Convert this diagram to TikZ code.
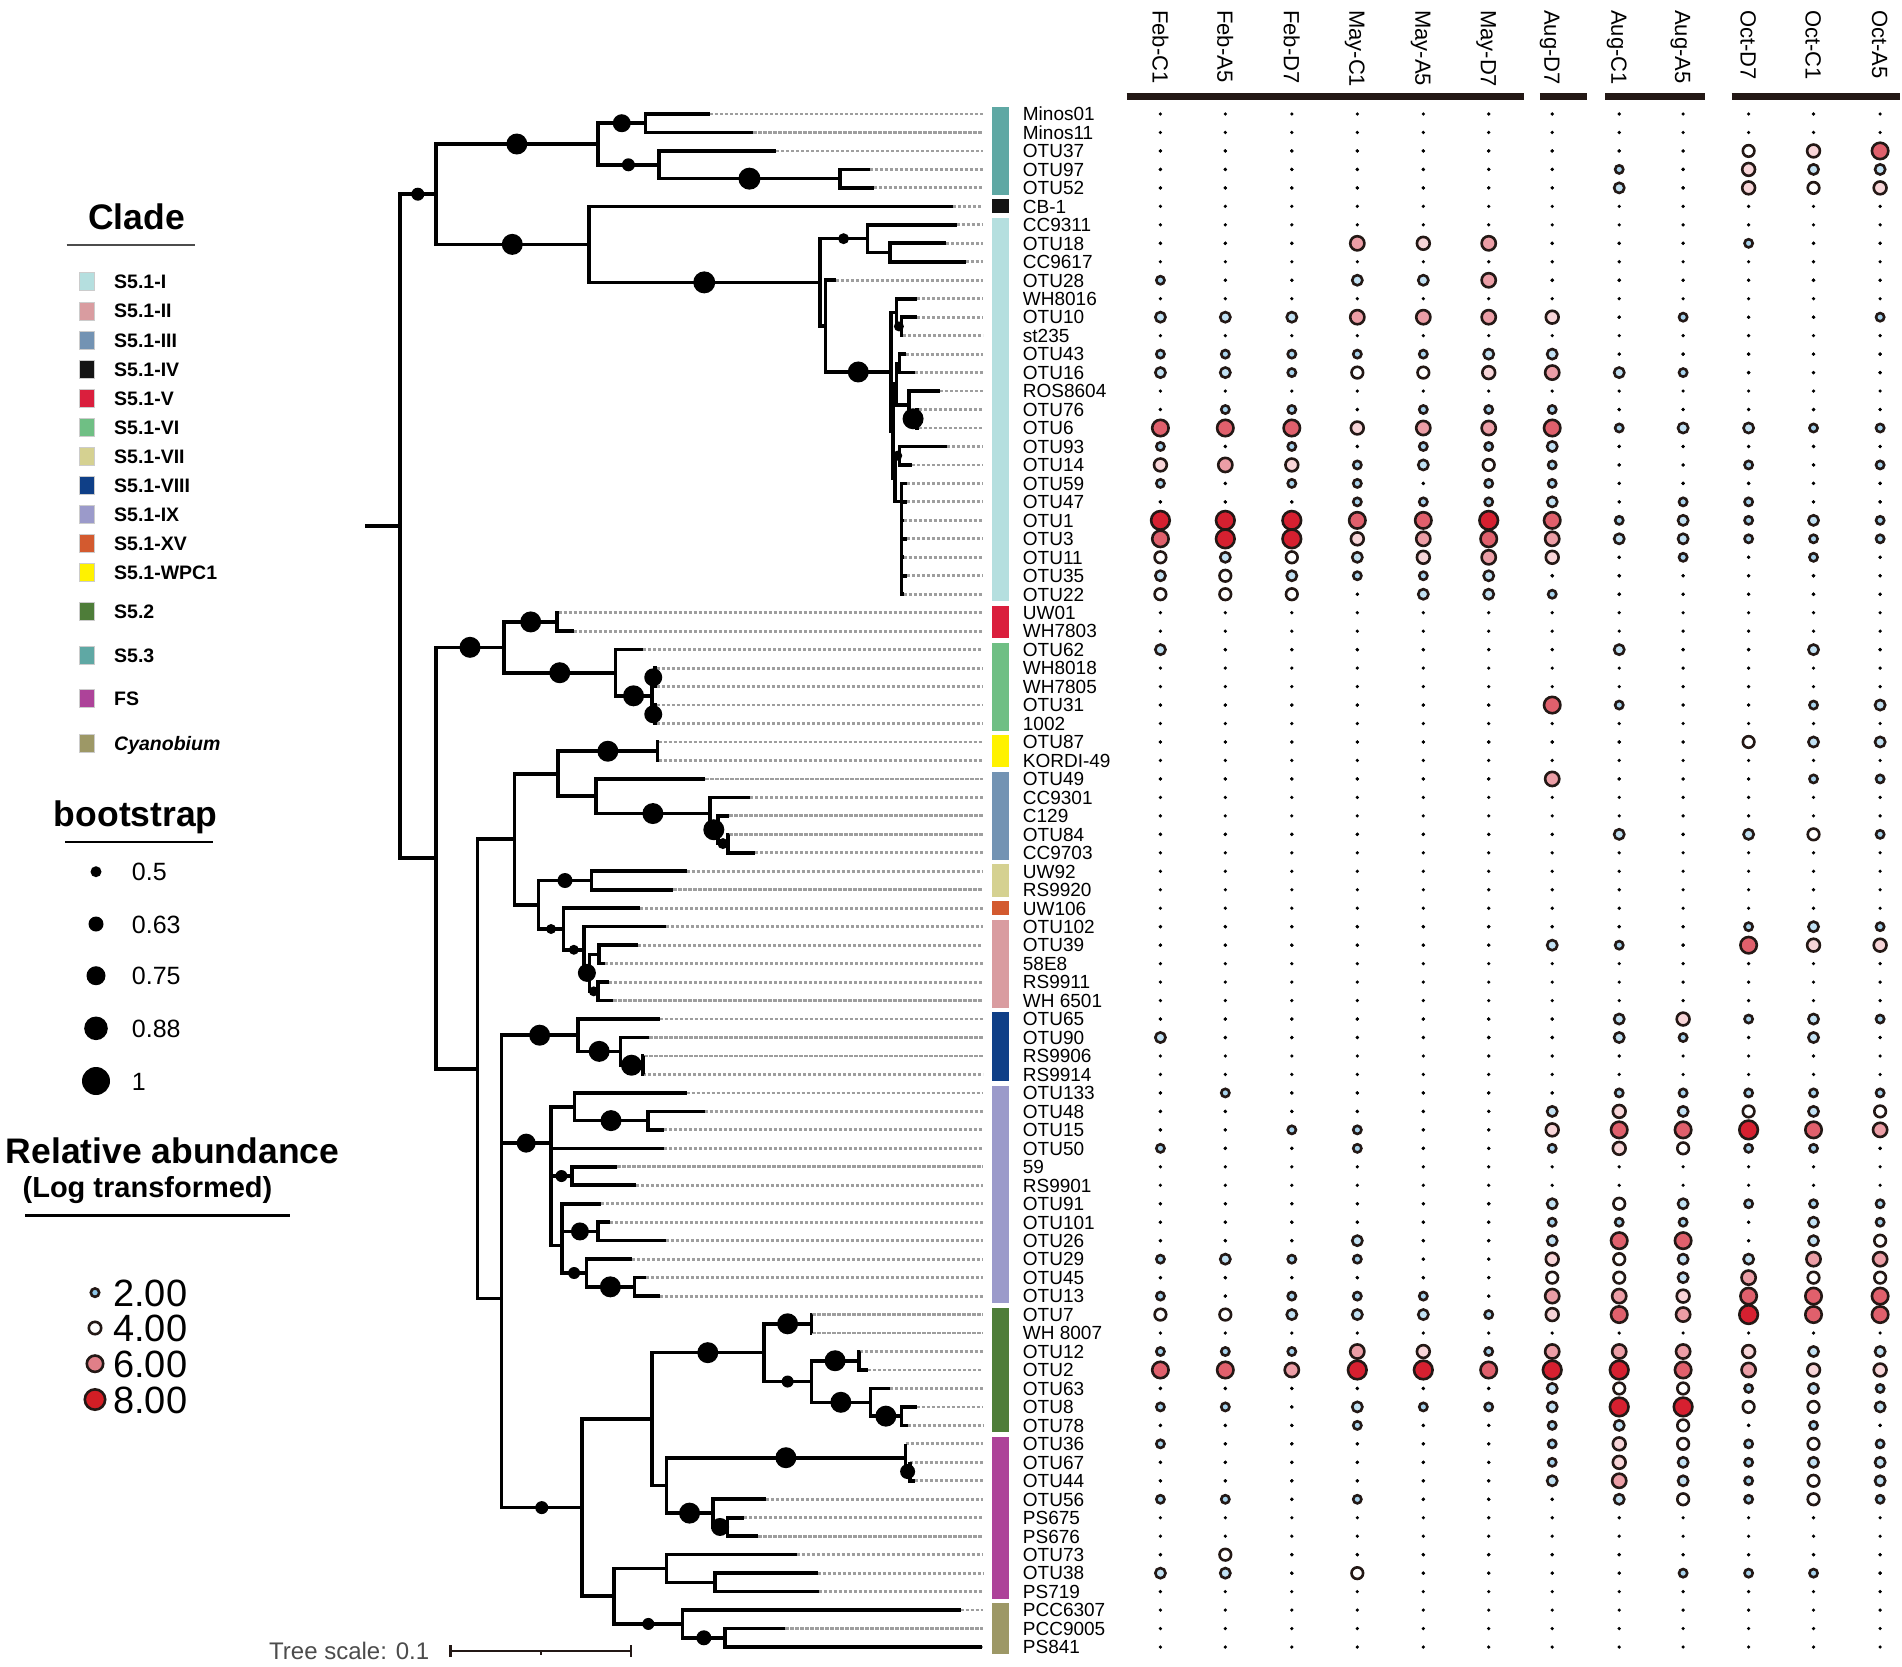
\documentclass[tikz,border=0pt]{standalone}
\usepackage{fontspec}
\setmainfont{Liberation Sans}
\usetikzlibrary{calc}
\definecolor{ink}{HTML}{231815}
\definecolor{dotgrey}{HTML}{9E9E9E}
\definecolor{cS53}{HTML}{5FA8A4}
\definecolor{cI}{HTML}{B5DFDF}
\definecolor{cIV}{HTML}{141414}
\definecolor{cV}{HTML}{DA1F3D}
\definecolor{cVI}{HTML}{6FBF84}
\definecolor{cWPC}{HTML}{FFF200}
\definecolor{cIII}{HTML}{7393B3}
\definecolor{cVII}{HTML}{D5D191}
\definecolor{cXV}{HTML}{D35A2F}
\definecolor{cII}{HTML}{D99CA0}
\definecolor{cVIII}{HTML}{0F3F87}
\definecolor{cIX}{HTML}{9B9ACA}
\definecolor{cS52}{HTML}{4E7D39}
\definecolor{cFS}{HTML}{AD4399}
\definecolor{cCy}{HTML}{9D9866}
\definecolor{cb1}{HTML}{A9D5EF}
\definecolor{cb2}{HTML}{C2E2F4}
\definecolor{cb3}{HTML}{FFFFFF}
\definecolor{cb4}{HTML}{F8D5D8}
\definecolor{cb5}{HTML}{EC9EA6}
\definecolor{cb6}{HTML}{E0606C}
\definecolor{cb7}{HTML}{D62030}
\newcommand\inode[4]{%
  \path let \p1=($(#3)!0.5!(#4)$) in coordinate (#1) at (#2pt,\y1);%
  \draw[br] (#3) -- (#1 |- #3) -- (#1 |- #4) -- (#4);%
}
\newcommand\boot[3]{\fill[black] ($(#2 |- #3)!0.5!(#3)$) circle[radius=#1pt];}
\newcommand\bubble[3]{%
  \ifcase#1\relax
    \fill[black] (#2,#3) circle[radius=1.8pt];
  \or \filldraw[ring,fill=cb1] (#2,#3) circle[radius=4.1pt];
  \or \filldraw[ring,fill=cb2] (#2,#3) circle[radius=5.1pt];
  \or \filldraw[ring,fill=cb3] (#2,#3) circle[radius=5.8pt];
  \or \filldraw[ring,fill=cb4] (#2,#3) circle[radius=6.4pt];
  \or \filldraw[ring,fill=cb5] (#2,#3) circle[radius=7.1pt];
  \or \filldraw[ring,fill=cb6] (#2,#3) circle[radius=8.2pt];
  \or \filldraw[ring,fill=cb7] (#2,#3) circle[radius=9.3pt];
  \fi}
\begin{document}
\begin{tikzpicture}[x=1pt,y=-1pt,
  declare function={ry(\q)=114+(\q-1)*18.47;},
  br/.style={draw=black,line width=3.6pt},
  dotl/.style={draw=dotgrey,line width=2.8pt,dash pattern=on 3.2pt off 1.8pt},
  ring/.style={draw=ink,line width=2.6pt},
  lab/.style={anchor=west,inner sep=0pt,text height=13.6pt,text depth=0pt,font=\fontsize{19}{19}\selectfont},
  hdr/.style={rotate=-90,anchor=base west,inner sep=0pt,font=\fontsize{22}{22}\selectfont},
  legtxt/.style={anchor=west,inner sep=0pt,text height=14pt,text depth=0pt,font=\fontsize{19.5}{20}\selectfont\bfseries},
  bslab/.style={anchor=west,inner sep=0pt,text height=18pt,text depth=0pt,font=\fontsize{25}{25}\selectfont},
  ablab/.style={anchor=west,inner sep=0pt,text height=27.2pt,text depth=0pt,font=\fontsize{38}{38}\selectfont},
  title/.style={anchor=base,inner sep=0pt,font=\fontsize{35.5}{35.5}\selectfont\bfseries}]
\useasboundingbox (0,0) rectangle (1902,1666);
\fill[white] (0,0) rectangle (1902,1666);

% ---------------- leaves ----------------
\foreach \i/\x/\nm in {1/709.9/Minos01,2/753.4/Minos11,3/776.2/OTU37,4/869.5/OTU97,5/873.6/OTU52,
 6/953.2/CB-1,7/956.6/CC9311,8/946.2/OTU18,9/965.7/CC9617,10/835.9/OTU28,11/917.2/WH8016,
 12/917.2/OTU10,13/903/st235,14/905.5/OTU43,15/914.7/OTU16,16/940/ROS8604,17/919/OTU76,
 18/919/OTU6,19/947/OTU93,20/911.8/OTU14,21/906.8/OTU59,22/906.8/OTU47,23/903.5/OTU1,
 24/906.8/OTU3,25/903.5/OTU11,26/906.8/OTU35,27/903.5/OTU22,28/558.5/UW01,29/573.9/WH7803,
 30/643.1/OTU62,31/656.8/WH8018,32/656.8/WH7805,33/656.8/OTU31,34/656.8/1002,35/658.5/OTU87,
 36/658.5/KORDI-49,37/705.3/OTU49,38/750.1/CC9301,39/729.3/C129,40/729.3/OTU84,41/755/CC9703,
 42/686.6/UW92,43/673.4/RS9920,44/640.2/UW106,45/665.9/OTU102,46/638.1/OTU39,47/605/58E8,
 48/609.1/RS9911,49/613.3/WH 6501,50/659.7/OTU65,51/649.3/OTU90,52/644.4/RS9906,53/643/RS9914,
 54/686.6/OTU133,55/704.5/OTU48,56/663.8/OTU15,57/663.8/OTU50,58/617.4/59,59/636.1/RS9901,
 60/600.8/OTU91,61/609.9/OTU101,62/665.9/OTU26,63/631.9/OTU29,64/645.6/OTU45,65/659.7/OTU13,
 66/812.3/OTU7,67/812.3/WH 8007,68/859.5/OTU12,69/868.2/OTU2,70/890.2/OTU63,71/916.8/OTU8,
 72/907.6/OTU78,73/905.5/OTU36,74/909.7/OTU67,75/914.7/OTU44,76/765.8/OTU56,77/743.9/PS675,
 78/758.4/PS676,79/796.5/OTU73,80/817.7/OTU38,81/818.5/PS719,82/960.7/PCC6307,83/785.3/PCC9005,
 84/982.3/PS841}{
  \coordinate (n\i) at (\x,{ry(\i)});
  \coordinate (d\i) at (983,{ry(\i)});
  \draw[dotl] (n\i) -- (d\i);
  \node[lab] (lab\i) at (1022.7,{ry(\i)}) {\nm};
}

% ---------------- clade colour bar ----------------
\foreach \a/\b/\col in {1/5/cS53,6/6/cIV,7/27/cI,28/29/cV,30/34/cVI,35/36/cWPC,37/41/cIII,
 42/43/cVII,44/44/cXV,45/49/cII,50/53/cVIII,54/65/cIX,66/72/cS52,73/81/cFS,82/84/cCy}{
  \fill[\col] (992,{ry(\a)-7}) rectangle (1008.5,{ry(\b)+7});
}

% ---------------- tree: upper group ----------------
\inode{M1}{645.6}{n1}{n2}
\inode{M3}{840}{n4}{n5}
\inode{M2}{658.9}{n3}{M3}
\inode{T}{597.9}{M1}{M2}
\inode{C2}{890.2}{n8}{n9}
\inode{C1}{867.4}{n7}{C2}
\inode{G1b}{901.4}{n12}{n13}
\inode{G1}{896.4}{n11}{G1b}
\inode{H1}{899.3}{n14}{n15}
\inode{H2}{917.2}{n17}{n18}
\inode{G3b}{908.9}{n16}{H2}
\inode{G3}{896.4}{H1}{G3b}
\inode{J1}{899.3}{n19}{n20}
\inode{K6}{901.4}{n26}{n27}
\inode{K5}{901.4}{n25}{K6}
\inode{K4}{901.4}{n24}{K5}
\inode{K3}{901.4}{n23}{K4}
\inode{K2}{901.4}{n22}{K3}
\inode{K1}{901.4}{n21}{K2}
\inode{G4}{895.2}{J1}{K1}
\inode{G2}{893.1}{G3}{G4}
\inode{C4}{891}{G1}{G2}
\inode{C3}{825.5}{n10}{C4}
\inode{C}{819.7}{C1}{C3}
\inode{B}{588.8}{n6}{C}
\inode{U}{435.8}{T}{B}

% ---------------- tree: lower group ----------------
\inode{V}{557.2}{n28}{n29}
\inode{VI3}{654.7}{n31}{n32}
\inode{VI4}{654.7}{n33}{n34}
\inode{VI2}{651.8}{VI3}{VI4}
\inode{VI}{615.3}{n30}{VI2}
\inode{V56}{504.2}{V}{VI}
\inode{WPC}{657.6}{n35}{n36}
\inode{III4}{728.1}{n40}{n41}
\inode{III3}{717.7}{n39}{III4}
\inode{III2}{709.9}{n38}{III3}
\inode{III}{595.9}{n37}{III2}
\inode{Q1}{558.1}{WPC}{III}
\inode{VII}{591.3}{n42}{n43}
\inode{II3}{598.8}{n46}{n47}
\inode{II4}{597.9}{n48}{n49}
\inode{II2}{589.6}{II3}{II4}
\inode{II}{584.2}{n45}{II2}
\inode{Q3}{563.5}{n44}{II}
\inode{Q2}{538.6}{VII}{Q3}
\inode{Q}{514.6}{Q1}{Q2}
\inode{VIII3}{642.7}{n52}{n53}
\inode{VIII2}{620.3}{n51}{VIII3}
\inode{VIII}{578}{n50}{VIII2}
\inode{IXa2}{647.7}{n55}{n56}
\inode{IXa}{574.3}{n54}{IXa2}
\inode{IXc}{571.8}{n58}{n59}
\inode{IXe}{597.9}{n61}{n62}
\inode{IXdd}{561.9}{n60}{IXe}
\inode{IXg}{634.4}{n64}{n65}
\inode{IXf}{586.3}{n63}{IXg}
\inode{IXd}{561.9}{IXdd}{IXf}
\inode{IXthree}{551.1}{IXc}{IXd}
\inode{IXtwo}{551.1}{n57}{IXthree}
\inode{IXone}{551.1}{IXa}{IXtwo}
\inode{Rtwo}{501.3}{VIII}{IXone}
\inode{SIIa}{811.4}{n66}{n67}
\inode{SIIc}{858.7}{n68}{n69}
\inode{SIIe}{901.4}{n71}{n72}
\inode{SIId}{870.3}{n70}{SIIe}
\inode{SIIb}{811.4}{SIIc}{SIId}
\inode{SII}{763.8}{SIIa}{SIIb}
\inode{FStwo}{909.7}{n74}{n75}
\inode{FSone}{905.5}{n73}{FStwo}
\inode{FSfour}{727.3}{n77}{n78}
\inode{FSthree}{712.8}{n76}{FSfour}
\inode{FSall}{666.3}{FSone}{FSthree}
\inode{Sone}{651.8}{SII}{FSall}
\inode{Stwob}{714.8}{n80}{n81}
\inode{Stwoa}{666.3}{n79}{Stwob}
\inode{Cytwo}{725.2}{n83}{n84}
\inode{Cy}{682.5}{n82}{Cytwo}
\inode{Stwo}{614.1}{Stwoa}{Cy}
\inode{S}{582.2}{Sone}{Stwo}
\inode{Rone}{501.3}{Rtwo}{S}
\inode{Lb}{477.3}{Q}{Rone}
\inode{L}{435.8}{V56}{Lb}
\inode{root}{399.8}{U}{L}
\coordinate (rootstub) at ($(root)+(-35.3,0)$);
\draw[br] (root) -- (rootstub);

% ---------------- bootstrap dots ----------------
\boot{6.5}{root}{U}
\boot{10.5}{U}{T}
\boot{9}{T}{M1}
\boot{6.5}{T}{M2}
\boot{11}{M2}{M3}
\boot{10.5}{U}{B}
\boot{11}{B}{C}
\boot{5.5}{C}{C1}
\boot{10.5}{C3}{C4}
\boot{5}{G1}{G1b}
\boot{10.5}{G3b}{H2}
\boot{5}{G4}{J1}
\boot{10.5}{L}{V56}
\boot{10.5}{V56}{V}
\boot{10.5}{V56}{VI}
\boot{10.5}{VI}{VI2}
\boot{9}{VI2}{VI3}
\boot{9}{VI2}{VI4}
\boot{10.5}{Q1}{WPC}
\boot{10.5}{III}{III2}
\boot{10.5}{III2}{III3}
\boot{5.5}{III3}{III4}
\boot{7.5}{Q2}{VII}
\boot{5}{Q2}{Q3}
\boot{5}{Q3}{II}
\boot{9}{II}{II2}
\boot{5}{II2}{II4}
\boot{10.5}{Rtwo}{VIII}
\boot{10.5}{VIII}{VIII2}
\boot{10.5}{VIII2}{VIII3}
\boot{9.5}{Rtwo}{IXone}
\boot{10.5}{IXa}{IXa2}
\boot{6}{IXthree}{IXc}
\boot{9}{IXdd}{IXe}
\boot{6}{IXd}{IXf}
\boot{10.5}{IXf}{IXg}
\boot{6.5}{Rone}{S}
\boot{10.5}{Sone}{SII}
\boot{10.5}{SII}{SIIa}
\boot{6}{SII}{SIIb}
\boot{10.5}{SIIb}{SIIc}
\boot{10.5}{SIIb}{SIId}
\boot{10.5}{SIId}{SIIe}
\boot{10.5}{FSall}{FSone}
\boot{7.5}{FSone}{FStwo}
\boot{10.5}{FSall}{FSthree}
\boot{9}{FSthree}{FSfour}
\boot{6}{Stwo}{Cy}
\boot{7.5}{Cy}{Cytwo}

% ---------------- tree scale ----------------
\node[anchor=base west,inner sep=0pt,font=\fontsize{24}{24}\selectfont,text=black!70] (tscale) at (269,1659.5) {Tree scale: 0.1};
\coordinate (sbA) at (450.7,1651);
\coordinate (sbB) at (631.1,1651);
\draw[ink,line width=2.5pt] (sbA) -- (sbB);
\draw[ink,line width=2.5pt] ($(sbA)+(0,-6)$) -- ($(sbA)+(0,6)$);
\draw[ink,line width=2.5pt] ($(sbB)+(0,-6)$) -- ($(sbB)+(0,6)$);
\draw[ink,line width=1.8pt] ($(sbA)!0.5!(sbB)$) -- ++(0,3.5);

% ---------------- column headers ----------------
\foreach \x/\t [count=\i] in {1160.4/Feb-C1,1225.3/Feb-A5,1291.8/Feb-D7,1357.3/May-C1,
 1423.3/May-A5,1488.7/May-D7,1552.2/Aug-D7,1619.2/Aug-C1,1683.1/Aug-A5,1748.6/Oct-D7,
 1813.5/Oct-C1,1880.1/Oct-A5}{
  \node[hdr] (h\i) at ({\x-7.9},10) {\t};
}
\foreach \a/\b in {1126.6/1523.5,1539.9/1587,1605.4/1705.1,1731.7/1900}{
  \draw[ink,line width=7pt] (\a,96.5) -- (\b,96.5);
}

% ---------------- bubbles ----------------
\foreach \r in {1,...,84}{
  \foreach \cx in {1160.4,1225.3,1291.8,1357.3,1423.3,1488.7,1552.2,1619.2,1683.1,1748.6,1813.5,1880.1}{
    \fill[black] (\cx,{ry(\r)}) circle[radius=1.8pt];
  }
}
\foreach \r/\vals in {
 3/{0,0,0,0,0,0,0,0,0,3,4,6},
 4/{0,0,0,0,0,0,0,1,0,4,2,2},
 5/{0,0,0,0,0,0,0,2,0,4,3,4},
 8/{0,0,0,5,4,5,0,0,0,1,0,0},
 10/{1,0,0,2,2,5,0,0,0,0,0,0},
 12/{2,2,2,5,5,5,4,0,1,0,0,1},
 14/{1,1,1,1,1,2,2,0,0,0,0,0},
 15/{2,2,1,3,3,4,5,2,1,0,0,0},
 17/{0,1,1,0,1,1,1,0,0,0,0,0},
 18/{6,6,6,4,5,5,6,1,2,2,1,1},
 19/{1,0,1,0,1,1,2,0,0,0,0,0},
 20/{4,5,4,1,2,3,1,0,0,1,0,1},
 21/{1,0,1,1,0,1,1,0,0,0,0,0},
 22/{0,0,0,1,1,1,2,0,1,1,0,0},
 23/{7,7,7,6,6,7,6,1,2,1,2,1},
 24/{6,7,7,4,5,6,5,2,2,1,1,1},
 25/{3,2,3,2,4,5,4,0,1,0,1,0},
 26/{2,3,2,1,1,2,0,0,0,0,0,0},
 27/{3,3,3,0,2,2,1,0,0,0,0,0},
 30/{2,0,0,0,0,0,0,2,0,0,2,0},
 33/{0,0,0,0,0,0,6,1,0,0,1,2},
 35/{0,0,0,0,0,0,0,0,0,3,2,2},
 37/{0,0,0,0,0,0,5,0,0,0,1,1},
 40/{0,0,0,0,0,0,0,2,0,2,3,1},
 45/{0,0,0,0,0,0,0,0,0,1,2,1},
 46/{0,0,0,0,0,0,2,1,0,6,4,4},
 50/{0,0,0,0,0,0,0,2,4,1,2,1},
 51/{2,0,0,0,0,0,0,2,1,0,2,0},
 54/{0,1,0,0,0,0,0,1,1,1,1,1},
 55/{0,0,0,0,0,0,2,4,2,3,2,3},
 56/{0,0,1,1,0,0,4,6,6,7,6,5},
 57/{1,0,0,1,0,0,1,4,3,1,1,0},
 60/{0,0,0,0,0,0,2,3,2,1,1,1},
 61/{0,0,0,0,0,0,1,1,1,0,2,1},
 62/{0,0,0,2,0,0,2,6,6,0,2,3},
 63/{1,2,1,1,0,0,4,3,2,2,5,5},
 64/{0,0,0,0,0,0,3,3,2,5,3,3},
 65/{1,0,1,1,1,0,5,5,4,6,6,6},
 66/{3,3,2,2,2,1,4,6,5,7,6,6},
 68/{1,1,1,5,4,1,5,5,5,4,2,2},
 69/{6,6,5,7,7,6,7,7,6,5,4,4},
 70/{0,0,0,0,0,0,2,3,3,1,2,1},
 71/{1,1,0,2,1,1,2,7,7,3,3,2},
 72/{0,0,0,1,0,0,1,2,3,0,1,0},
 73/{1,0,0,0,0,0,1,4,3,1,3,1},
 74/{0,0,0,0,0,0,1,4,2,1,2,2},
 75/{0,0,0,0,0,0,2,5,2,1,3,2},
 76/{1,1,0,1,0,0,0,2,3,1,3,1},
 79/{0,3,0,0,0,0,0,0,0,0,0,0},
 80/{2,2,0,3,0,0,0,0,1,1,1,0}}{
  \foreach \v [count=\c] in \vals {
    \pgfmathsetmacro\cx{{1160.4,1225.3,1291.8,1357.3,1423.3,1488.7,1552.2,1619.2,1683.1,1748.6,1813.5,1880.1}[\c-1]}
    \pgfmathsetmacro\cy{ry(\r)}
    \bubble{\v}{\cx}{\cy}
  }
}

% ---------------- legend: clade ----------------
\node[title] (cladeT) at (136.5,229.5) {Clade};
\draw[black!70,line width=2.3pt] (66.7,245) -- (195,245);
\foreach \yy/\col/\txt [count=\k] in {281.4/cI/S5.1-I,310.9/cII/S5.1-II,340.7/cIII/S5.1-III,
 369.4/cIV/S5.1-IV,398.1/cV/S5.1-V,427.6/cVI/S5.1-VI,456.3/cVII/S5.1-VII,485.4/cVIII/S5.1-VIII,
 514.1/cIX/S5.1-IX,543.6/cXV/S5.1-XV,572.3/cWPC/S5.1-WPC1,611.7/cS52/S5.2,655.3/cS53/S5.3,
 698.6/cFS/FS,743.3/cCy/\textit{Cyanobium}}{
  \filldraw[fill=\col,draw=black!20,line width=0.8pt] (79,\yy-9) rectangle (94.5,\yy+9);
  \node[legtxt] (leg\k) at (114,\yy) {\txt};
}

% ---------------- legend: bootstrap ----------------
\node[title] (bsT) at (135.8,826) {bootstrap};
\draw[black,line width=2pt] (65,842.3) -- (213.3,842.3);
\foreach \yy/\rr/\txt [count=\k] in {871.7/5.5/0.5,924/7.5/0.63,975.7/9.5/0.75,1028.3/11.8/0.88,1081/14/1}{
  \fill[black] (96,\yy) circle[radius=\rr pt];
  \node[bslab] (bs\k) at (131.7,\yy) {\txt};
}

% ---------------- legend: abundance ----------------
\node[title] (abT) at (172.5,1163) {Relative abundance};
\node[anchor=base,inner sep=0pt,font=\fontsize{29}{29}\selectfont\bfseries] (abT2) at (147.5,1197) {(Log transformed)};
\draw[black,line width=2.5pt] (25,1215.6) -- (290,1215.6);
\foreach \yy/\rr/\col/\txt [count=\k] in {1292.6/4.2/8EC6E8/2.00,1328/6.2/FFFFFF/4.00,1363.7/8.2/E07F88/6.00,1399.5/10.2/D31E25/8.00}{
  \definecolor{tmpc}{HTML}{\col}
  \filldraw[draw=ink,line width=2.6pt,fill=tmpc] (95,\yy) circle[radius=\rr pt];
  \node[ablab] (ab\k) at (113,\yy) {\txt};
}
\end{tikzpicture}
\end{document}
